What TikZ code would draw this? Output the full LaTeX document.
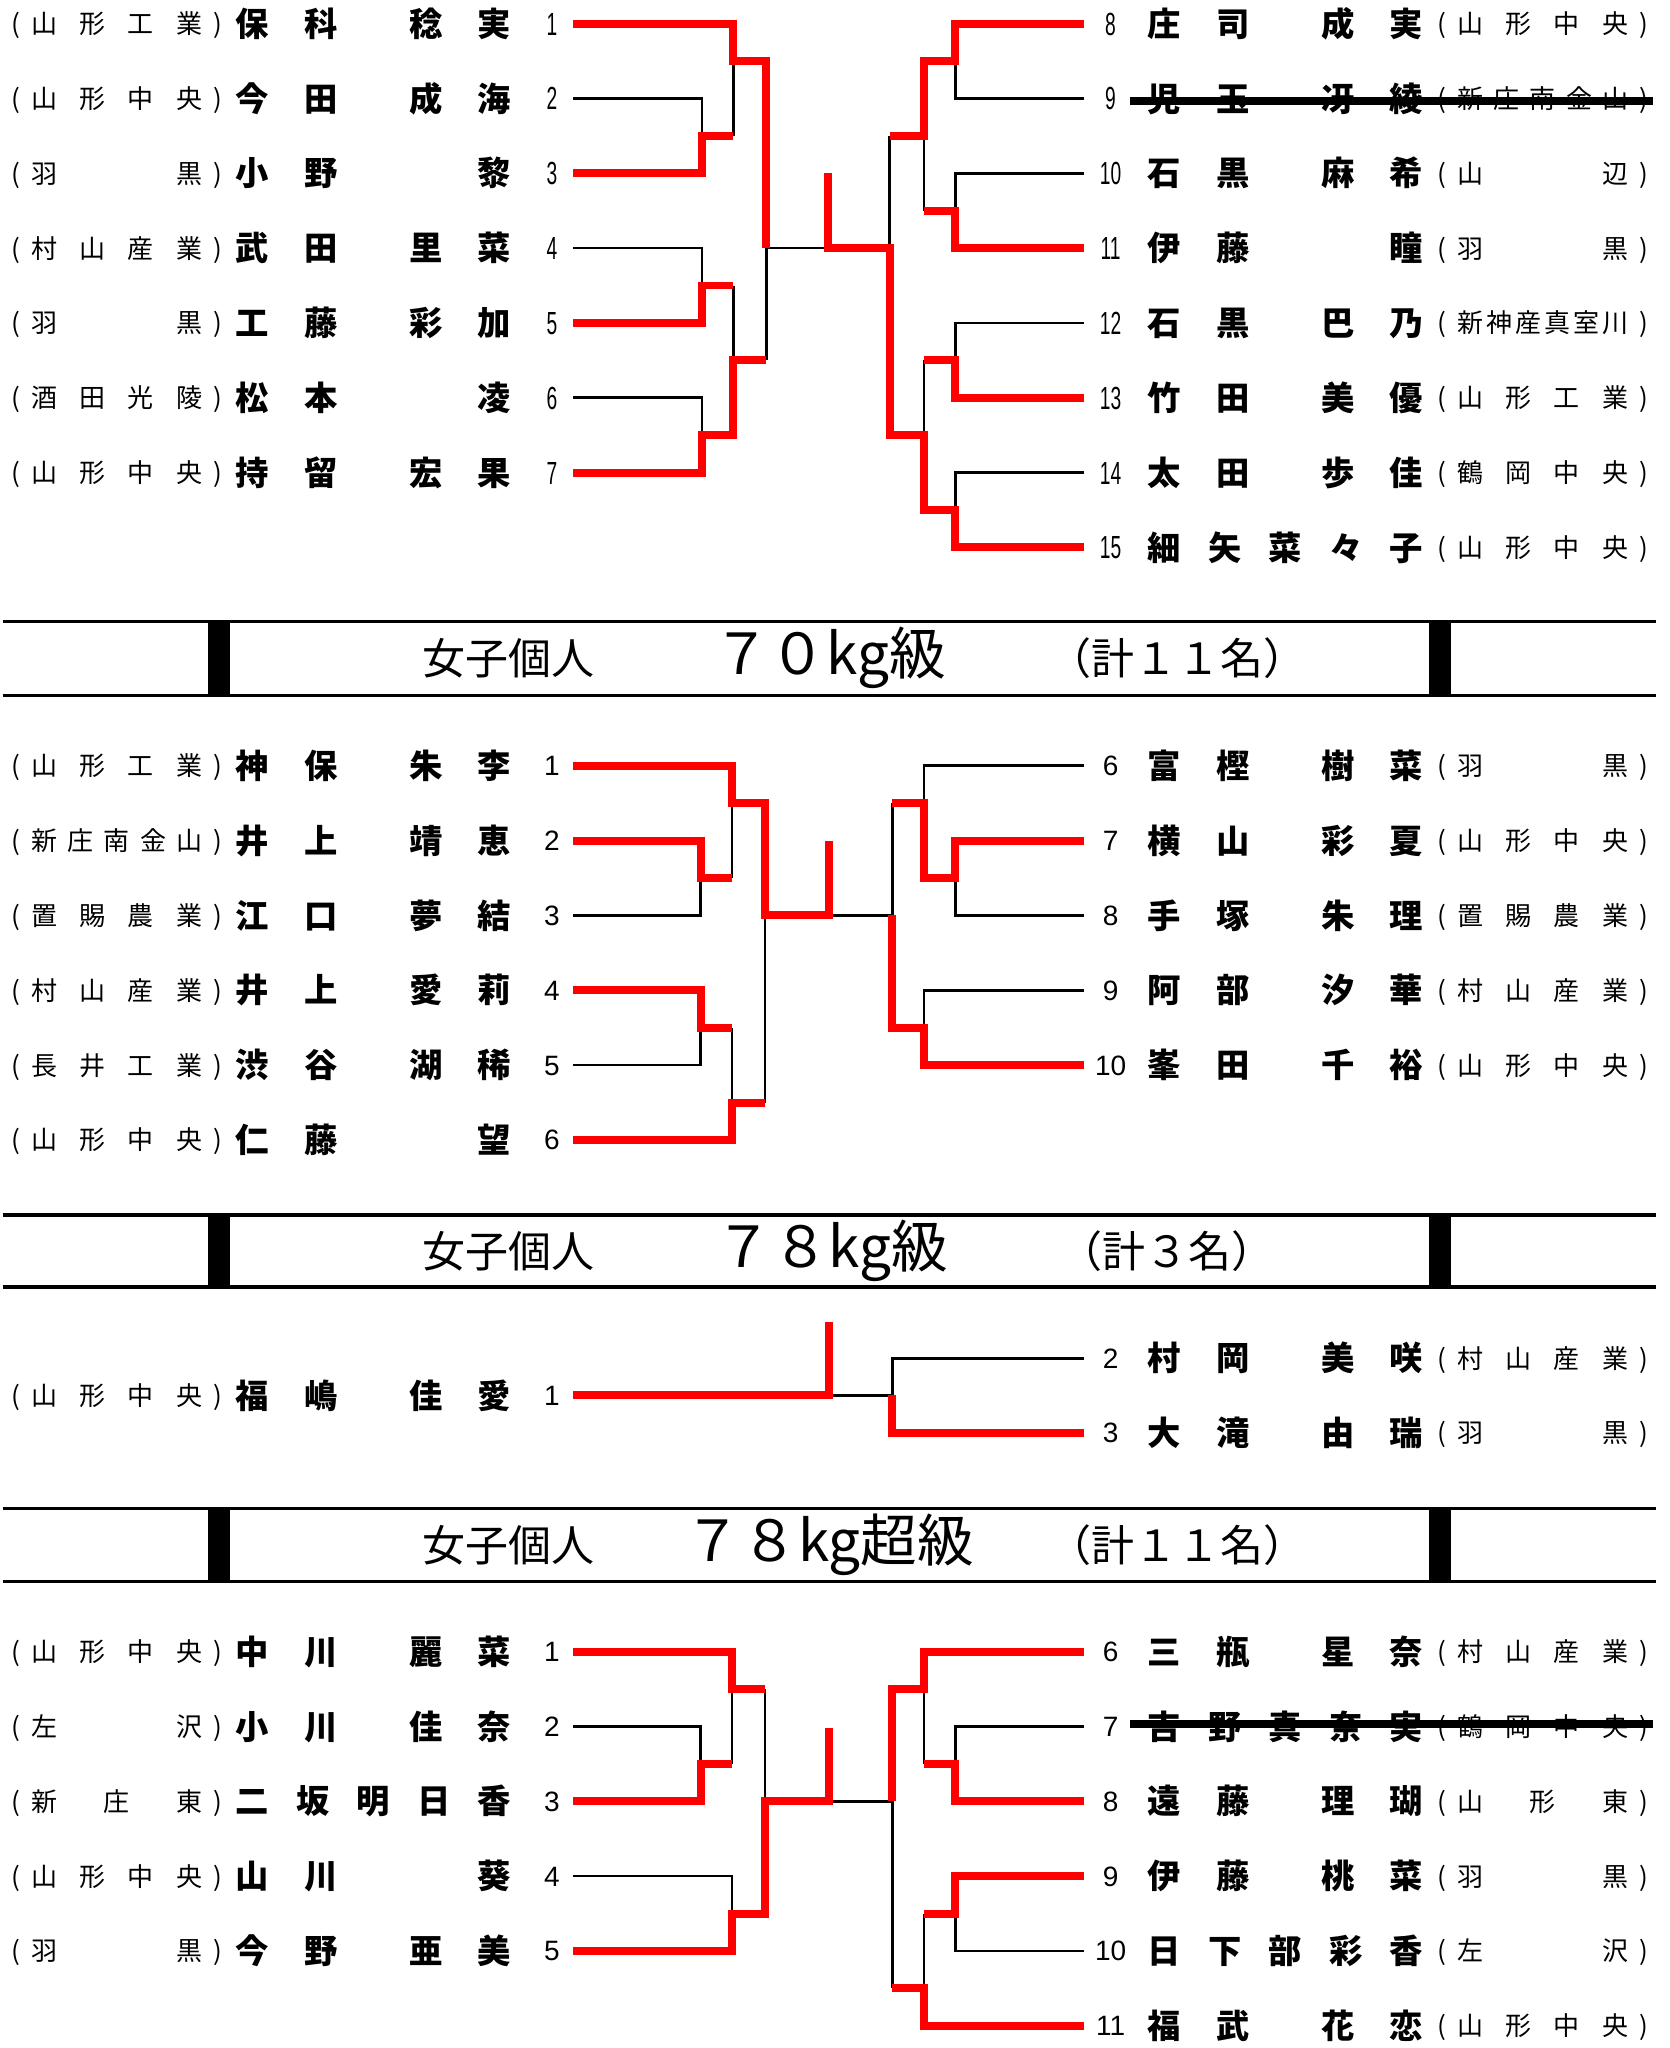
\documentclass[tikz,border=0pt]{standalone}
\usepackage{fontspec}
\setmainfont{Noto Sans CJK JP}
\newfontfamily\jp{Noto Sans CJK JP}
\newfontfamily\digits{Liberation Sans}
\newfontfamily\narrowdigits[FakeStretch=0.6]{Liberation Sans}

\tikzset{
	nm/.style={font=\jp\bfseries\fontsize{10pt}{11pt}\selectfont, inner sep=0pt, text height=8.8pt, text depth=1.2pt},
	sc/.style={font=\jp\fontsize{7.8pt}{8pt}\selectfont, inner sep=0pt, text height=6.9pt, text depth=0.9pt},
	no/.style={font=\digits\fontsize{8.4pt}{9pt}\selectfont, inner sep=0pt, text height=6pt, text depth=0pt},
	noA/.style={font=\narrowdigits\fontsize{9.6pt}{10pt}\selectfont, inner sep=0pt, text height=6.9pt, text depth=0pt},
	win/.style={draw=red, line width=2.4pt, line join=miter},
	lose/.style={draw=black, line width=0.8pt},
	hline/.style={line width=1.1pt},
	strike/.style={line width=2.4pt},
	hd/.style={font=\jp\fontsize{12.9pt}{14pt}\selectfont, inner sep=0pt},
	hdbig/.style={font=\jp\fontsize{17pt}{18pt}\selectfont, inner sep=0pt}
}

%leaf coordinate and number
\newcommand{\lno}[4]{\coordinate (#1) at (436,#3); \node[#4] (n#1) at (420,#3) {#2};}
\newcommand{\rno}[4]{\coordinate (#1) at (825,#3); \node[#4] (n#1) at (845,#3) {#2};}
%names
\newcommand{\nmIII}[6]{\node[nm] (#1a) at (#2,#3) {#4}; \node[nm] (#1b) at (#2+52,#3) {#5}; \node[nm] (#1c) at (#2+184,#3) {#6};}
\newcommand{\nmIV}[7]{\node[nm] (#1a) at (#2,#3) {#4}; \node[nm] (#1b) at (#2+52,#3) {#5}; \node[nm] (#1c) at (#2+132,#3) {#6}; \node[nm] (#1d) at (#2+184,#3) {#7};}
\newcommand{\nmV}[8]{\node[nm] (#1a) at (#2,#3) {#4}; \node[nm] (#1b) at (#2+46,#3) {#5}; \node[nm] (#1c) at (#2+92,#3) {#6}; \node[nm] (#1d) at (#2+138,#3) {#7}; \node[nm] (#1e) at (#2+184,#3) {#8};}
%schools
\newcommand{\scpar}[3]{\node[sc] (#1l) at (#2-22,#3) {(}; \node[sc] (#1r) at (#2+132,#3) {)};}
\newcommand{\scII}[5]{\scpar{#1}{#2}{#3} \node[sc] (#1a) at (#2,#3) {#4}; \node[sc] (#1b) at (#2+110,#3) {#5};}
\newcommand{\scIII}[6]{\scpar{#1}{#2}{#3} \node[sc] (#1a) at (#2,#3) {#4}; \node[sc] (#1b) at (#2+55,#3) {#5}; \node[sc] (#1c) at (#2+110,#3) {#6};}
\newcommand{\scIV}[7]{\scpar{#1}{#2}{#3} \node[sc] (#1a) at (#2,#3) {#4}; \node[sc] (#1b) at (#2+36,#3) {#5}; \node[sc] (#1c) at (#2+73,#3) {#6}; \node[sc] (#1d) at (#2+110,#3) {#7};}
\newcommand{\scV}[8]{\scpar{#1}{#2}{#3} \node[sc] (#1a) at (#2,#3) {#4}; \node[sc] (#1b) at (#2+27.5,#3) {#5}; \node[sc] (#1c) at (#2+55,#3) {#6}; \node[sc] (#1d) at (#2+82.5,#3) {#7}; \node[sc] (#1e) at (#2+110,#3) {#8};}
\newcommand{\scVI}[9]{\scpar{#1}{#2}{#3} \node[sc] (#1a) at (#2,#3) {#4}; \node[sc] (#1b) at (#2+22,#3) {#5}; \node[sc] (#1c) at (#2+44,#3) {#6}; \node[sc] (#1d) at (#2+66,#3) {#7}; \node[sc] (#1e) at (#2+88,#3) {#8}; \node[sc] (#1f) at (#2+110,#3) {#9};}

\begin{document}
\begin{tikzpicture}[x=0.3943pt,y=-0.3918pt]
	\fill[white] (0,0) rectangle (1270.2,1568.2);
	\useasboundingbox (0,0) rectangle (1270.2,1568.2);

	%Entries, first bracket
	\lno{a1}{1}{18}{noA} \nmIV{a1n}{192}{18}{保}{科}{稔}{実} \scIV{a1s}{34}{18}{山}{形}{工}{業}
	\lno{a2}{2}{75.3}{noA} \nmIV{a2n}{192}{75.3}{今}{田}{成}{海} \scIV{a2s}{34}{75.3}{山}{形}{中}{央}
	\lno{a3}{3}{132.6}{noA} \nmIII{a3n}{192}{132.6}{小}{野}{黎} \scII{a3s}{34}{132.6}{羽}{黒}
	\lno{a4}{4}{189.9}{noA} \nmIV{a4n}{192}{189.9}{武}{田}{里}{菜} \scIV{a4s}{34}{189.9}{村}{山}{産}{業}
	\lno{a5}{5}{247.2}{noA} \nmIV{a5n}{192}{247.2}{工}{藤}{彩}{加} \scII{a5s}{34}{247.2}{羽}{黒}
	\lno{a6}{6}{304.5}{noA} \nmIII{a6n}{192}{304.5}{松}{本}{凌} \scIV{a6s}{34}{304.5}{酒}{田}{光}{陵}
	\lno{a7}{7}{361.8}{noA} \nmIV{a7n}{192}{361.8}{持}{留}{宏}{果} \scIV{a7s}{34}{361.8}{山}{形}{中}{央}
	\rno{a8}{8}{18}{noA} \nmIV{a8n}{886}{18}{庄}{司}{成}{実} \scIV{a8s}{1119}{18}{山}{形}{中}{央}
	\rno{a9}{9}{75.3}{noA} \nmIV{a9n}{886}{75.3}{児}{玉}{冴}{綾} \scV{a9s}{1119}{75.3}{新}{庄}{南}{金}{山}
	\rno{a10}{10}{132.6}{noA} \nmIV{a10n}{886}{132.6}{石}{黒}{麻}{希} \scII{a10s}{1119}{132.6}{山}{辺}
	\rno{a11}{11}{189.9}{noA} \nmIII{a11n}{886}{189.9}{伊}{藤}{瞳} \scII{a11s}{1119}{189.9}{羽}{黒}
	\rno{a12}{12}{247.2}{noA} \nmIV{a12n}{886}{247.2}{石}{黒}{巴}{乃} \scVI{a12s}{1119}{247.2}{新}{神}{産}{真}{室}{川}
	\rno{a13}{13}{304.5}{noA} \nmIV{a13n}{886}{304.5}{竹}{田}{美}{優} \scIV{a13s}{1119}{304.5}{山}{形}{工}{業}
	\rno{a14}{14}{361.8}{noA} \nmIV{a14n}{886}{361.8}{太}{田}{歩}{佳} \scIV{a14s}{1119}{361.8}{鶴}{岡}{中}{央}
	\rno{a15}{15}{419.1}{noA} \nmV{a15n}{886}{419.1}{細}{矢}{菜}{々}{子} \scIV{a15s}{1119}{419.1}{山}{形}{中}{央}
	\draw[strike] (860,77) -- (1258,77);%9

	%Lines, first bracket
	\draw[lose] (a2) -| (534,104);
	\draw[lose] (558,104) -- (558,46.6);
	\draw[lose] (a4) -| (534,218.6);
	\draw[lose] (558,218.6) -- (558,275.9);
	\draw[lose] (a6) -| (534,333.2);
	\draw[lose] (583,275.9) -- (583,189.9) -- (630,189.9);
	\draw[lose] (a9) -| (727,46.6);
	\draw[lose] (a10) -| (727,161.3);
	\draw[lose] (703,161.3) -- (703,104);
	\draw[lose] (677,104) -- (677,189.9);
	\draw[lose] (a12) -| (727,275.9);
	\draw[lose] (703,275.9) -- (703,333.2);
	\draw[lose] (a14) -| (727,390.5);
	\draw[win] (a1) -| (558,46.6) -- (583,46.6) -- (583,189.9);
	\draw[win] (a3) -| (534,104) -- (558,104);
	\draw[win] (a5) -| (534,218.6) -- (558,218.6);
	\draw[win] (a7) -| (534,333.2) -- (558,333.2) -- (558,275.9) -- (583,275.9);
	\draw[win] (a8) -| (727,46.6) -- (703,46.6) -- (703,104) -- (677,104);
	\draw[win] (a11) -| (727,161.3) -- (703,161.3);
	\draw[win] (a13) -| (727,275.9) -- (703,275.9);
	\draw[win] (a15) -| (727,390.5) -- (703,390.5) -- (703,333.2) -- (677,333.2) -- (677,189.9) -- (630,189.9) -- (630,132.6);

	%Header 70kg
	\draw[hline] (2,476) -- (1260,476);
	\draw[hline] (2,532.5) -- (1260,532.5);
	\fill (158,476) rectangle (175,532.5);
	\fill (1087,476) rectangle (1104,532.5);
	\node[hd, anchor=west] (hB1) at (321,504) {女子個人};
	\node[hdbig] (hB2) at (631,504) {７０kg級};
	\node[hd] (hB3) at (896,504) {（計１１名）};

	%Entries, 70kg
	\lno{b1}{1}{586.3}{no} \nmIV{b1n}{192}{586.3}{神}{保}{朱}{李} \scIV{b1s}{34}{586.3}{山}{形}{工}{業}
	\lno{b2}{2}{643.6}{no} \nmIV{b2n}{192}{643.6}{井}{上}{靖}{恵} \scV{b2s}{34}{643.6}{新}{庄}{南}{金}{山}
	\lno{b3}{3}{700.9}{no} \nmIV{b3n}{192}{700.9}{江}{口}{夢}{結} \scIV{b3s}{34}{700.9}{置}{賜}{農}{業}
	\lno{b4}{4}{758.2}{no} \nmIV{b4n}{192}{758.2}{井}{上}{愛}{莉} \scIV{b4s}{34}{758.2}{村}{山}{産}{業}
	\lno{b5}{5}{815.5}{no} \nmIV{b5n}{192}{815.5}{渋}{谷}{湖}{稀} \scIV{b5s}{34}{815.5}{長}{井}{工}{業}
	\lno{b6}{6}{872.8}{no} \nmIII{b6n}{192}{872.8}{仁}{藤}{望} \scIV{b6s}{34}{872.8}{山}{形}{中}{央}
	\rno{bR6}{6}{586.3}{no} \nmIV{bR6n}{886}{586.3}{富}{樫}{樹}{菜} \scII{bR6s}{1119}{586.3}{羽}{黒}
	\rno{bR7}{7}{643.6}{no} \nmIV{bR7n}{886}{643.6}{横}{山}{彩}{夏} \scIV{bR7s}{1119}{643.6}{山}{形}{中}{央}
	\rno{bR8}{8}{700.9}{no} \nmIV{bR8n}{886}{700.9}{手}{塚}{朱}{理} \scIV{bR8s}{1119}{700.9}{置}{賜}{農}{業}
	\rno{bR9}{9}{758.2}{no} \nmIV{bR9n}{886}{758.2}{阿}{部}{汐}{華} \scIV{bR9s}{1119}{758.2}{村}{山}{産}{業}
	\rno{bR10}{10}{815.5}{no} \nmIV{bR10n}{886}{815.5}{峯}{田}{千}{裕} \scIV{bR10s}{1119}{815.5}{山}{形}{中}{央}

	%Lines, 70kg
	\draw[lose] (b3) -| (533,672.3);
	\draw[lose] (557,672.3) -- (557,615);
	\draw[lose] (b5) -| (533,786.9);
	\draw[lose] (557,786.9) -- (557,844.2);
	\draw[lose] (582,844.2) -- (582,700.9);
	\draw[lose] (631,700.9) -- (679,700.9);
	\draw[lose] (bR6) -| (703,615);
	\draw[lose] (bR8) -| (727,672.3);
	\draw[lose] (679,615) -- (679,700.9);
	\draw[lose] (bR9) -| (703,786.9);
	\draw[win] (b1) -| (557,615) -- (582,615) -- (582,700.9) -- (631,700.9) -- (631,643.6);
	\draw[win] (b2) -| (533,672.3) -- (557,672.3);
	\draw[win] (b4) -| (533,786.9) -- (557,786.9);
	\draw[win] (b6) -| (557,844.2) -- (582,844.2);
	\draw[win] (bR7) -| (727,672.3) -- (703,672.3) -- (703,615) -- (679,615);
	\draw[win] (bR10) -| (703,786.9) -- (679,786.9) -- (679,700.9);

	%Header 78kg
	\draw[hline] (2,930.5) -- (1260,930.5);
	\draw[hline] (2,985.6) -- (1260,985.6);
	\fill (158,930.5) rectangle (175,985.6);
	\fill (1087,930.5) rectangle (1104,985.6);
	\node[hd, anchor=west] (hC1) at (321,958) {女子個人};
	\node[hdbig] (hC2) at (633,958) {７８kg級};
	\node[hd] (hC3) at (888,958) {（計３名）};

	%Entries, 78kg
	\lno{c1}{1}{1068.5}{no} \nmIV{c1n}{192}{1068.5}{福}{嶋}{佳}{愛} \scIV{c1s}{34}{1068.5}{山}{形}{中}{央}
	\rno{cR2}{2}{1040}{no} \nmIV{cR2n}{886}{1040}{村}{岡}{美}{咲} \scIV{cR2s}{1119}{1040}{村}{山}{産}{業}
	\rno{cR3}{3}{1097}{no} \nmIV{cR3n}{886}{1097}{大}{滝}{由}{瑞} \scII{cR3s}{1119}{1097}{羽}{黒}

	%Lines, 78kg
	\draw[lose] (631,1068.5) -- (679,1068.5);
	\draw[lose] (cR2) -| (679,1068.5);
	\draw[win] (c1) -- (631,1068.5) -- (631,1012);
	\draw[win] (cR3) -| (679,1068.5);

	%Header 78kg+
	\draw[hline] (2,1155) -- (1260,1155);
	\draw[hline] (2,1211) -- (1260,1211);
	\fill (158,1155) rectangle (175,1211);
	\fill (1087,1155) rectangle (1104,1211);
	\node[hd, anchor=west] (hD1) at (321,1183) {女子個人};
	\node[hdbig] (hD2) at (631,1183) {７８kg超級};
	\node[hd] (hD3) at (896,1183) {（計１１名）};

	%Entries, 78kg+
	\lno{d1}{1}{1264.6}{no} \nmIV{d1n}{192}{1264.6}{中}{川}{麗}{菜} \scIV{d1s}{34}{1264.6}{山}{形}{中}{央}
	\lno{d2}{2}{1321.9}{no} \nmIV{d2n}{192}{1321.9}{小}{川}{佳}{奈} \scII{d2s}{34}{1321.9}{左}{沢}
	\lno{d3}{3}{1379.2}{no} \nmV{d3n}{192}{1379.2}{二}{坂}{明}{日}{香} \scIII{d3s}{34}{1379.2}{新}{庄}{東}
	\lno{d4}{4}{1436.5}{no} \nmIII{d4n}{192}{1436.5}{山}{川}{葵} \scIV{d4s}{34}{1436.5}{山}{形}{中}{央}
	\lno{d5}{5}{1493.8}{no} \nmIV{d5n}{192}{1493.8}{今}{野}{亜}{美} \scII{d5s}{34}{1493.8}{羽}{黒}
	\rno{dR6}{6}{1264.6}{no} \nmIV{dR6n}{886}{1264.6}{三}{瓶}{星}{奈} \scIV{dR6s}{1119}{1264.6}{村}{山}{産}{業}
	\rno{dR7}{7}{1321.9}{no} \nmV{dR7n}{886}{1321.9}{吉}{野}{真}{奈}{実} \scIV{dR7s}{1119}{1321.9}{鶴}{岡}{中}{央}
	\rno{dR8}{8}{1379.2}{no} \nmIV{dR8n}{886}{1379.2}{遠}{藤}{理}{瑚} \scIII{dR8s}{1119}{1379.2}{山}{形}{東}
	\rno{dR9}{9}{1436.5}{no} \nmIV{dR9n}{886}{1436.5}{伊}{藤}{桃}{菜} \scII{dR9s}{1119}{1436.5}{羽}{黒}
	\rno{dR10}{10}{1493.8}{no} \nmV{dR10n}{886}{1493.8}{日}{下}{部}{彩}{香} \scII{dR10s}{1119}{1493.8}{左}{沢}
	\rno{dR11}{11}{1551.1}{no} \nmIV{dR11n}{886}{1551.1}{福}{武}{花}{恋} \scIV{dR11s}{1119}{1551.1}{山}{形}{中}{央}
	\draw[strike] (860,1320) -- (1258,1320);%7

	%Lines, 78kg+
	\draw[lose] (d2) -| (533,1350.6);
	\draw[lose] (557,1350.6) -- (557,1293.3);
	\draw[lose] (582,1293.3) -- (582,1379.2);
	\draw[lose] (d4) -| (557,1465.2);
	\draw[lose] (631,1379.2) -- (679,1379.2);
	\draw[lose] (dR7) -| (727,1350.6);
	\draw[lose] (703,1350.6) -- (703,1293.3);
	\draw[lose] (dR10) -| (727,1465.2);
	\draw[lose] (703,1465.2) -- (703,1522.5);
	\draw[lose] (679,1522.5) -- (679,1379.2);
	\draw[win] (d1) -| (557,1293.3) -- (582,1293.3);
	\draw[win] (d3) -| (533,1350.6) -- (557,1350.6);
	\draw[win] (d5) -| (557,1465.2) -- (582,1465.2) -- (582,1379.2) -- (631,1379.2) -- (631,1323);
	\draw[win] (dR6) -| (703,1293.3) -- (679,1293.3) -- (679,1379.2);
	\draw[win] (dR8) -| (727,1350.6) -- (703,1350.6);
	\draw[win] (dR9) -| (727,1465.2) -- (703,1465.2);
	\draw[win] (dR11) -| (703,1522.5) -- (679,1522.5);
\end{tikzpicture}
\end{document}
